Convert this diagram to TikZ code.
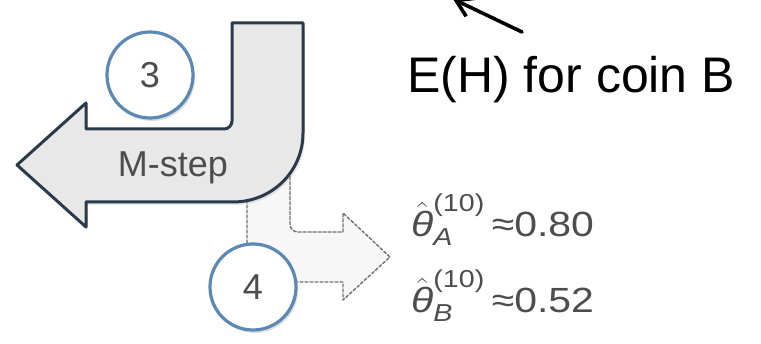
\documentclass[tikz,border=0pt]{standalone}
\usepackage{fix-cm}
\usepackage{amsmath}
\usepackage{fontspec}
\setmainfont{Liberation Sans}
\usetikzlibrary{arrows.meta,shadows}
\definecolor{arrowline}{HTML}{2B3A4A}
\definecolor{arrowfill}{HTML}{E8E8E8}
\definecolor{ringblue}{HTML}{5B88B4}
\definecolor{labelgray}{HTML}{4D4D4D}
\definecolor{dashgray}{HTML}{6E6E6E}
\definecolor{ghostfill}{HTML}{F7F7F7}
\newcommand{\thhat}[1]{$\hat{\text{\itshape θ}}^{\text{(10)}}_{\text{\itshape #1}}$\,}
\begin{document}
\begin{tikzpicture}[line cap=round,line join=round,x=1pt,y=-1pt,
		ring/.style={circle,draw=ringblue,line width=3.2pt,fill=white,minimum size=86pt,inner sep=0pt,
			text=labelgray,font=\fontsize{36}{36}\selectfont,
			drop shadow={opacity=0.25,shadow xshift=2pt,shadow yshift=-3pt}},
		estimate/.style={anchor=base west,inner sep=0pt,text=labelgray,font=\fontsize{35}{35}\selectfont,xscale=1.17}]
		\useasboundingbox (0,0) rectangle (761,344);
		%fleche en pointilles
		\draw[dashgray,line width=1.4pt,fill=ghostfill,dash pattern=on 3pt off 2pt]
			(247,190)--(247,282)--(343,282)--(343,300)--(390,257)--(343,213)--(343,232)--(298,232)
			.. controls (293.6,232) and (290,228.4) .. (290,224)--(290,160);
		%grande fleche M-step
		\draw[arrowline,line width=3pt,fill=arrowfill,drop shadow={opacity=0.2,shadow xshift=2pt,shadow yshift=-3pt}]
			(232,23)--(303,23)--(303,133) .. controls (303,171.7) and (271.7,202) .. (233,202)
			--(86,202)--(86,227)--(17,165)--(86,103)--(86,129)--(224,129)
			.. controls (228.4,129) and (232,125.4) .. (232,121)--cycle;
		\node[anchor=base,inner sep=0pt,text=labelgray,font=\fontsize{36}{36}\selectfont] (mstep) at (173,177) {M-step};
		%etapes
		\node[ring] (stepthree) at (150,75) {3};
		\node[ring] (stepfour) at (253,287) {4};
		%estimations
		\node[estimate] (thetaA) at (411,237) {\thhat{A}≈0.80};
		\node[estimate] (thetaB) at (411,313) {\thhat{B}≈0.52};
		%legende
		\node[anchor=base west,inner sep=0pt,font=\fontsize{50}{50}\selectfont] (coinB) at (407,93) {E(H) for coin B};
		\coordinate (pointertail) at (522,32);
		\coordinate (pointertip) at (453,-1);
		\draw[line width=3.6pt,-{Straight Barb[length=16pt,width=20pt]}] (pointertail)--(pointertip);
\end{tikzpicture}
\end{document}
